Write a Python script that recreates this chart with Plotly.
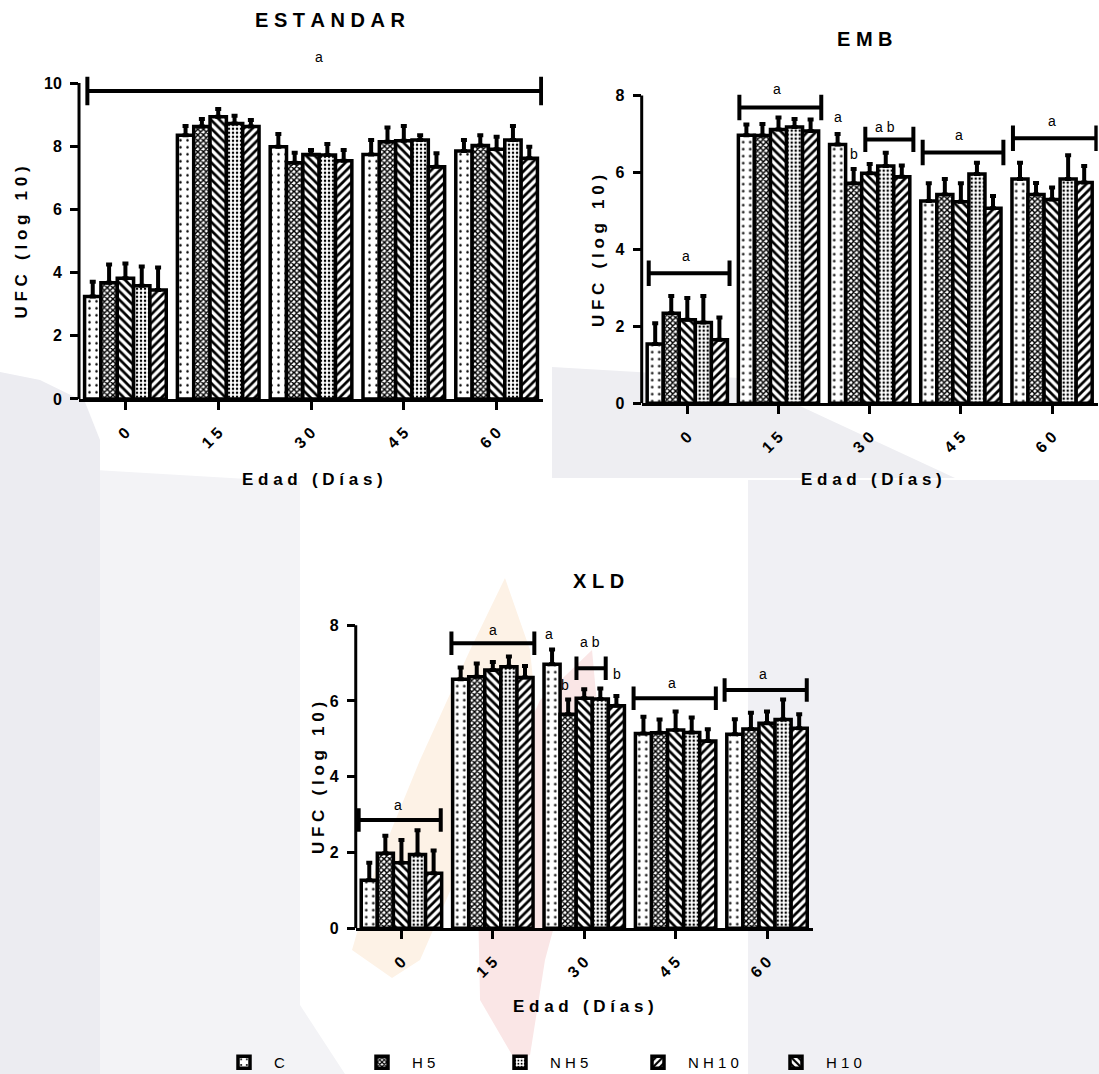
import plotly.graph_objects as go

FONT = "Liberation Sans, Arial, sans-serif"
W, H = 1099, 1074

# ---- data -------------------------------------------------------------
days = ["0", "15", "30", "45", "60"]
groups = ["C", "H5", "H10", "NH5", "NH10"]          # bar order inside each day
legend_order = ["C", "H5", "NH5", "NH10", "H10"]     # order shown in the legend

# ESTANDAR: means and upper SD
est_C = [3.24, 8.35, 7.98, 7.74, 7.85]
est_H5 = [3.68, 8.62, 7.48, 8.14, 8.02]
est_H10 = [3.82, 8.93, 7.74, 8.17, 7.90]
est_NH5 = [3.58, 8.72, 7.72, 8.20, 8.20]
est_NH10 = [3.45, 8.62, 7.54, 7.35, 7.62]
est_C_sd = [0.47, 0.29, 0.41, 0.46, 0.35]
est_H5_sd = [0.58, 0.24, 0.31, 0.45, 0.33]
est_H10_sd = [0.47, 0.25, 0.14, 0.47, 0.40]
est_NH5_sd = [0.61, 0.24, 0.35, 0.15, 0.44]
est_NH10_sd = [0.71, 0.21, 0.34, 0.43, 0.36]

# EMB
emb_C = [1.54, 6.97, 6.73, 5.26, 5.83]
emb_H5 = [2.34, 6.96, 5.72, 5.43, 5.43]
emb_H10 = [2.17, 7.12, 5.98, 5.24, 5.30]
emb_NH5 = [2.10, 7.18, 6.17, 5.96, 5.83]
emb_NH10 = [1.65, 7.08, 5.89, 5.07, 5.74]
emb_C_sd = [0.54, 0.28, 0.27, 0.46, 0.42]
emb_H5_sd = [0.45, 0.30, 0.37, 0.40, 0.30]
emb_H10_sd = [0.57, 0.31, 0.24, 0.48, 0.31]
emb_NH5_sd = [0.69, 0.21, 0.34, 0.29, 0.62]
emb_NH10_sd = [0.58, 0.30, 0.29, 0.32, 0.43]

# XLD
xld_C = [1.27, 6.57, 6.97, 5.14, 5.12]
xld_H5 = [1.98, 6.64, 5.65, 5.16, 5.26]
xld_H10 = [1.73, 6.82, 6.07, 5.23, 5.41]
xld_NH5 = [1.95, 6.90, 6.05, 5.17, 5.51]
xld_NH10 = [1.45, 6.62, 5.87, 4.94, 5.28]
xld_C_sd = [0.46, 0.31, 0.39, 0.44, 0.40]
xld_H5_sd = [0.46, 0.35, 0.39, 0.35, 0.43]
xld_H10_sd = [0.60, 0.21, 0.24, 0.49, 0.31]
xld_NH5_sd = [0.64, 0.27, 0.28, 0.39, 0.53]
xld_NH10_sd = [0.60, 0.30, 0.26, 0.31, 0.37]

# significance brackets: (start, end, height) in axis units, and letters (x, y, text)
est_brackets = [(-0.41, 4.48, 9.75)]
est_letters = [(2.09, 10.82, "a")]
emb_brackets = [(-0.423, 0.463, 3.38), (0.571, 1.469, 7.69), (1.952, 2.479, 6.86),
                (2.581, 3.466, 6.52), (3.571, 4.485, 6.89)]
emb_letters = [(-0.012, 3.83, "a"), (0.987, 8.16, "a"), (1.650, 7.43, "a"), (1.827, 6.47, "b"),
               (2.166, 7.19, "ab"), (2.977, 6.97, "a"), (3.995, 7.35, "a")]
xld_brackets = [(-0.468, 0.430, 2.86), (0.547, 1.454, 7.52), (1.915, 2.235, 6.86),
                (2.54, 3.44, 6.07), (3.536, 4.435, 6.29)]
xld_letters = [(-0.038, 3.25, "a"), (0.997, 7.87, "a"), (1.610, 7.78, "a"), (1.786, 6.42, "b"),
               (2.063, 7.55, "ab"), (2.364, 6.70, "b"), (2.958, 6.48, "a"), (3.955, 6.70, "a")]

panels = [
    dict(title="ESTANDAR", x="x", y="y",
         means=[est_C, est_H5, est_H10, est_NH5, est_NH10],
         sds=[est_C_sd, est_H5_sd, est_H10_sd, est_NH5_sd, est_NH10_sd],
         brackets=est_brackets, letters=est_letters, cap=0.45, ymax=10, yticks=[0, 2, 4, 6, 8, 10]),
    dict(title="EMB", x="x2", y="y2",
         means=[emb_C, emb_H5, emb_H10, emb_NH5, emb_NH10],
         sds=[emb_C_sd, emb_H5_sd, emb_H10_sd, emb_NH5_sd, emb_NH10_sd],
         brackets=emb_brackets, letters=emb_letters, cap=0.33, ymax=8, yticks=[0, 2, 4, 6, 8]),
    dict(title="XLD", x="x3", y="y3",
         means=[xld_C, xld_H5, xld_H10, xld_NH5, xld_NH10],
         sds=[xld_C_sd, xld_H5_sd, xld_H10_sd, xld_NH5_sd, xld_NH10_sd],
         brackets=xld_brackets, letters=xld_letters, cap=0.31, ymax=8, yticks=[0, 2, 4, 6, 8]),
]

# ---- styling -------------------------------------------------------------
patterns = {
    "C": dict(shape=".", size=7, solidity=0.1),
    "H5": dict(shape="x", size=4, solidity=0.6),
    "H10": dict(shape="\\", size=6, solidity=0.45),
    "NH5": dict(shape=".", size=4, solidity=0.3),
    "NH10": dict(shape="/", size=6, solidity=0.45),
}


def spaced(s):
    return "\u00a0".join(s)


def px_path(points):
    """Closed path in paper units from pixel points (x right, y down)."""
    pts = [(x / W, 1 - y / H) for x, y in points]
    return "M" + " L".join(f"{x:.4f},{y:.4f}" for x, y in pts) + " Z"


fig = go.Figure()
shapes = []
annotations = []

# faint background emblem
emblem = [
    ("#f3f3f6", [(95, 470), (300, 482), (300, 1005), (345, 1074), (95, 1074)]),
    ("#ececf1", [(0, 372), (40, 380), (85, 402), (100, 440), (100, 1074), (0, 1074)]),
    ("#eeeef2", [(552, 367), (740, 378), (830, 420), (955, 478), (552, 478)]),
    ("#f0f0f4", [(748, 480), (1099, 480), (1099, 1074), (748, 1074)]),
    ("#fdf2e6", [(505, 578), (530, 650), (535, 700), (500, 780), (455, 880), (420, 960),
                 (392, 978), (352, 950), (375, 870), (420, 760), (470, 650)]),
    ("#fae6e6", [(592, 650), (602, 760), (572, 860), (545, 960), (530, 1055), (515, 1060),
                 (480, 1000), (478, 900), (495, 800), (540, 700)]),
]
for col, pts in emblem:
    shapes.append(dict(type="path", xref="paper", yref="paper", path=px_path(pts),
                       fillcolor=col, line=dict(width=0), layer="below"))

for pi, p in enumerate(panels):
    for gi, g in enumerate(groups):
        fig.add_trace(go.Bar(
            x=days, y=p["means"][gi], name=spaced(g),
            xaxis=p["x"], yaxis=p["y"],
            legendgroup=g, showlegend=(pi == 0),
            legendrank=legend_order.index(g) + 1,
            marker=dict(color="white", line=dict(color="black", width=3.5),
                        pattern=dict(fgcolor="black", bgcolor="white", fillmode="replace",
                                     **patterns[g])),
            error_y=dict(type="data", symmetric=False, array=p["sds"][gi],
                         arrayminus=[0] * len(days), color="black", thickness=4, width=3),
        ))
    # vertical axis line, only up to the last tick
    shapes.append(dict(type="line", xref=p["x"] + " domain", yref=p["y"], x0=0, x1=0,
                       y0=0, y1=p["ymax"], line=dict(color="black", width=3)))
    for (a, b, h) in p["brackets"]:
        shapes.append(dict(type="line", xref=p["x"], yref=p["y"], x0=a, x1=b, y0=h, y1=h,
                           line=dict(color="black", width=4)))
        for e in (a, b):
            shapes.append(dict(type="line", xref=p["x"], yref=p["y"], x0=e, x1=e,
                               y0=h - p["cap"], y1=h + p["cap"], line=dict(color="black", width=4)))
    for (lx, ly, t) in p["letters"]:
        annotations.append(dict(x=lx, y=ly, xref=p["x"], yref=p["y"], text=spaced(t),
                                xanchor="center", yanchor="middle",
                                showarrow=False, font=dict(family=FONT, size=14, color="black")))

# titles and axis titles
title_font = dict(family=FONT, size=20, color="black", weight="bold")
axis_font = dict(family=FONT, size=17, color="black", weight="bold")
for (tx, ty, t) in [(330, 20, "ESTANDAR"), (865, 39, "EMB"), (598, 581, "XLD")]:
    annotations.append(dict(x=tx / W, y=1 - ty / H, xref="paper", yref="paper", text=spaced(t),
                            xanchor="center", yanchor="middle", showarrow=False, font=title_font))
for (tx, ty) in [(312, 479), (871, 479), (583, 1006)]:
    annotations.append(dict(x=tx / W, y=1 - ty / H, xref="paper", yref="paper",
                            text=spaced("Edad (Días)"), xanchor="center", yanchor="middle",
                            showarrow=False, font=axis_font))
for (tx, ty) in [(20.5, 243), (598, 251), (318, 778)]:
    annotations.append(dict(x=tx / W, y=1 - ty / H, xref="paper", yref="paper",
                            text=spaced("UFC (log 10)"), textangle=-90,
                            xanchor="center", yanchor="middle", showarrow=False, font=axis_font))

tick_font = dict(family=FONT, size=16, color="black", weight="bold")


def xaxis(domain, anchor):
    return dict(domain=domain, anchor=anchor, type="category", range=[-0.5, 4.5],
                tickvals=days, ticktext=[spaced(d) for d in days],
                showline=True, linewidth=3, linecolor="black", ticks="outside",
                ticklen=8, tickwidth=3, tickcolor="black", tickangle=-45,
                ticklabelstandoff=7,
                tickfont=tick_font, showgrid=False, zeroline=False)


def yaxis(domain, anchor, top, ticks):
    return dict(domain=domain, anchor=anchor, range=[0, top], tickvals=ticks,
                showline=False, ticks="outside", ticklen=8, tickwidth=3, tickcolor="black",
                ticklabelstandoff=5,
                tickfont=tick_font, showgrid=False, zeroline=False)


fig.update_layout(
    width=W, height=H, margin=dict(l=0, r=0, t=0, b=0, autoexpand=False),
    paper_bgcolor="white", plot_bgcolor="rgba(0,0,0,0)",
    barmode="group", bargap=0.12, bargroupgap=0.0,
    xaxis=xaxis([0.0719, 0.4941], "y"),
    yaxis=yaxis([0.6285, 0.9639], "x", 11.4, panels[0]["yticks"]),
    xaxis2=xaxis([0.5839, 0.9988], "y2"),
    yaxis2=yaxis([0.6245, 0.9361], "x2", 8.7, panels[1]["yticks"]),
    xaxis3=xaxis([0.3237, 0.7395], "y3"),
    yaxis3=yaxis([0.1357, 0.4426], "x3", 8.7, panels[2]["yticks"]),
    shapes=shapes, annotations=annotations,
    showlegend=True,
    legend=dict(orientation="h", x=214 / W, y=0.0108, xanchor="left", yanchor="middle",
                entrywidth=73, entrywidthmode="pixels", itemwidth=50, traceorder="normal",
                font=dict(family=FONT, size=15, color="black"), bgcolor="rgba(0,0,0,0)"),
)

fig.write_html("out.html")
